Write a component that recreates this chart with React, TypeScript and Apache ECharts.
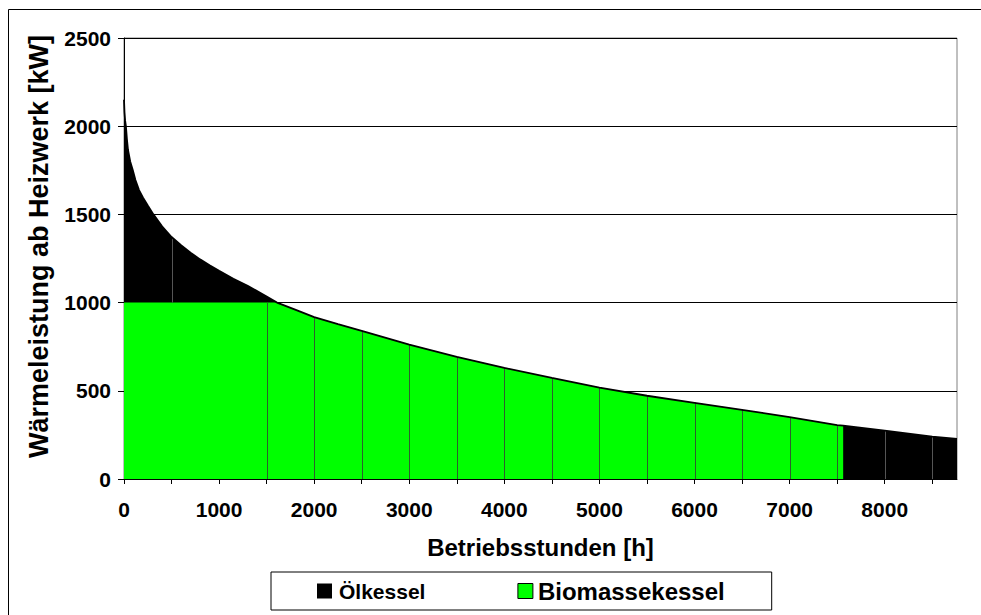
import React, { useEffect, useRef } from "react";
import * as echarts from "echarts";

const hours = [0, 5, 12, 20, 30, 42, 65, 92, 120, 158, 200, 250, 309, 400, 500, 600, 700, 800, 900, 1000, 1150, 1300, 1500, 1609, 1800, 2000, 2250, 2500, 3000, 3500, 4000, 4500, 5000, 5500, 6000, 6500, 7000, 7500, 7563, 8000, 8500, 8760];
const heatKW = [2150, 2080, 2030, 2000, 1930, 1865, 1800, 1752, 1695, 1638, 1595, 1550, 1500, 1432, 1372, 1325, 1283, 1245, 1212, 1180, 1135, 1095, 1035, 1000, 960, 918, 878, 840, 762, 693, 630, 573, 518, 472, 432, 392, 351, 306, 302, 274, 240, 227];
const biomassCapKW = 1000;
const biomassEndHour = 7563;
const oilDropHours = [500, 8000, 8500];
const bioDropHours = [1500, 2000, 2500, 3000, 3500, 4000, 4500, 5000, 5500, 6000, 6500, 7000, 7500];
const seriesNames = ["Ölkessel", "Biomassekessel"];
const xTitle = "Betriebsstunden [h]";
const yTitle = "Wärmeleistung ab Heizwerk [kW]";

const FONT = "'Liberation Sans', Arial, sans-serif";

const bioValue = (i: number) => (hours[i] <= biomassEndHour ? Math.min(heatKW[i], biomassCapKW) : 0);

export default function App() {
  const ref = useRef<HTMLDivElement>(null);
  useEffect(() => {
    if (!ref.current) return;
    const chart = echarts.init(ref.current, null, { renderer: "svg" });
    const totalData = hours.map((h, i) => [h, heatKW[i]]);
    const bioData: number[][] = [];
    hours.forEach((h, i) => {
      if (h <= biomassEndHour) bioData.push([h, bioValue(i)]);
    });
    bioData.push([biomassEndHour, 0]);
    const dropData = [
      ...oilDropHours.map((h) => {
        const i = hours.indexOf(h);
        return [h, bioValue(i), heatKW[i], 0];
      }),
      ...bioDropHours.map((h) => {
        const i = hours.indexOf(h);
        return [h, 0, bioValue(i), 1];
      }),
    ];

    chart.setOption({
      animation: false,
      backgroundColor: "#fff",
      textStyle: { fontFamily: FONT },
      graphic: [
        {
          type: "rect",
          shape: { x: 8.5, y: 9.5, width: 1200, height: 900 },
          style: { fill: "none", stroke: "#000", lineWidth: 1 },
          silent: true,
        },
      ],
      grid: {
        left: 124,
        top: 38,
        width: 833,
        height: 441,
        show: true,
        borderColor: "#808080",
        borderWidth: 1,
        backgroundColor: "transparent",
      },
      legend: {
        left: 271,
        top: 572,
        orient: "horizontal",
        padding: [7, 47, 7, 46],
        itemGap: 92,
        itemWidth: 15,
        itemHeight: 15,
        borderColor: "#000",
        borderWidth: 1,
        backgroundColor: "#fff",
        icon: "rect",
        textStyle: { fontFamily: FONT, fontWeight: "bold", color: "#000" },
        data: [
          { name: seriesNames[0], textStyle: { fontSize: 21, fontWeight: "bold", padding: [0, 0, 0, 2] } },
          {
            name: seriesNames[1],
            textStyle: { fontSize: 24, fontWeight: "bold" },
            itemStyle: { borderColor: "#000", borderWidth: 1 },
          },
        ],
      },
      xAxis: {
        type: "value",
        min: 0,
        max: 8760,
        interval: 500,
        name: xTitle,
        nameLocation: "middle",
        nameGap: 56,
        nameTextStyle: { fontFamily: FONT, fontWeight: "bold", fontSize: 24, color: "#000" },
        axisLine: { show: true, lineStyle: { color: "#000", width: 1 } },
        axisTick: { show: true, length: 5, lineStyle: { color: "#000" } },
        axisLabel: {
          margin: 20,
          fontFamily: FONT,
          fontWeight: "bold",
          fontSize: 21,
          color: "#000",
          showMaxLabel: false,
          formatter: (v: number) => (v % 1000 === 0 ? String(v) : ""),
        },
        splitLine: { show: false },
      },
      yAxis: {
        type: "value",
        min: 0,
        max: 2500,
        interval: 500,
        name: yTitle,
        nameLocation: "middle",
        nameGap: 72,
        nameRotate: 90,
        nameTextStyle: {
          fontFamily: FONT,
          fontWeight: "bold",
          fontSize: 27,
          color: "#000",
          padding: [0, 0, 0, 24],
        },
        axisLine: { show: true, lineStyle: { color: "#000", width: 1 } },
        axisTick: { show: true, length: 6, lineStyle: { color: "#000" } },
        axisLabel: {
          margin: 13,
          fontFamily: FONT,
          fontWeight: "bold",
          fontSize: 21,
          color: "#000",
          formatter: (v: number) => String(v),
        },
        splitLine: { show: true, lineStyle: { color: "#000", width: 1 } },
      },
      series: [
        {
          name: seriesNames[0],
          type: "line",
          data: totalData,
          symbol: "none",
          lineStyle: { width: 0, color: "#000" },
          itemStyle: { color: "#000" },
          areaStyle: { color: "#000", opacity: 1 },
          z: 2,
        },
        {
          name: seriesNames[1],
          type: "line",
          data: bioData,
          symbol: "none",
          lineStyle: { width: 0, color: "#00ff00" },
          itemStyle: { color: "#00ff00" },
          areaStyle: { color: "#00ff00", opacity: 1 },
          z: 3,
        },
        {
          name: "drop",
          type: "custom",
          data: dropData,
          silent: true,
          z: 4,
          renderItem: (params: any, api: any) => {
            const p0 = api.coord([api.value(0), api.value(1)]);
            const p1 = api.coord([api.value(0), api.value(2)]);
            const x = Math.round(p0[0]) + 0.5;
            return {
              type: "line",
              shape: { x1: x, y1: p0[1], x2: x, y2: p1[1] },
              style: { stroke: api.value(3) === 1 ? "#2e5e2e" : "#555", lineWidth: 1 },
            };
          },
        },
        {
          name: "curve",
          type: "line",
          data: totalData,
          symbol: "none",
          silent: true,
          lineStyle: { width: 1.8, color: "#000" },
          z: 5,
        },
      ],
    });
    return () => chart.dispose();
  }, []);
  return (
    <div
      ref={ref}
      style={{ position: "fixed", left: 0, top: 0, width: 981, height: 615 }}
    />
  );
}
